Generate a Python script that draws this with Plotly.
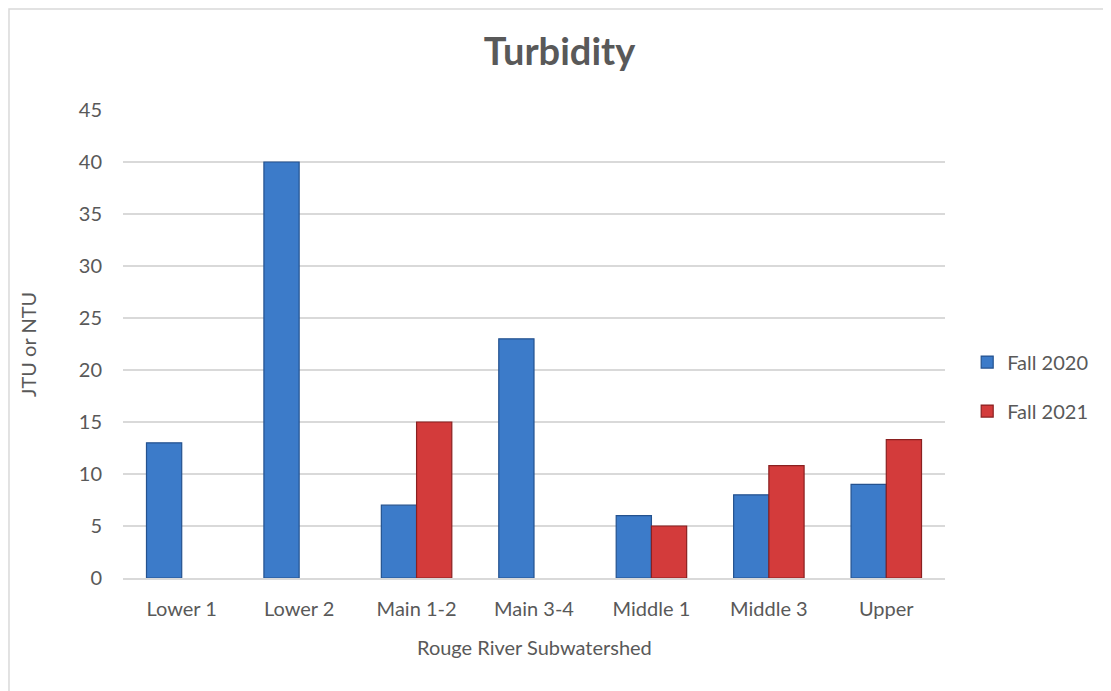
import plotly.graph_objects as go

categories = ["Lower 1", "Lower 2", "Main 1-2", "Main 3-4", "Middle 1", "Middle 3", "Upper"]
fall_2020 = [13, 40, 7, 23, 6, 8, 9]
fall_2021 = [None, None, 15, None, 5, 10.8, 13.3]

FONT = "Lato, 'Open Sans', sans-serif"
GRAY = "#595959"
FS = 20

fig = go.Figure()
fig.add_trace(go.Bar(
    x=categories, y=fall_2020, name="Fall 2020", legendgroup="a",
    marker=dict(color="#3c7bc9", line=dict(color="#24528f", width=1.2)),
))
fig.add_trace(go.Bar(
    x=categories, y=fall_2021, name="Fall 2021", legendgroup="b",
    marker=dict(color="#d33b3b", line=dict(color="#8a2020", width=1.2)),
))

fig.update_layout(
    width=1103, height=683,
    paper_bgcolor="white", plot_bgcolor="white",
    margin=dict(l=115, r=166, t=102, b=113),
    barmode="group", bargap=0.4, bargroupgap=0.0,
    font=dict(family=FONT, color=GRAY, size=FS),
    title=dict(text="<b>Turbidity</b>", x=0.5, xanchor="center", xref="container",
               y=1 - 44 / 683, yanchor="middle", yref="container",
               font=dict(size=38, color=GRAY, family=FONT)),
    legend=dict(x=1.027, y=0.409, xanchor="left", yanchor="middle",
                font=dict(size=FS, color=GRAY), tracegroupgap=20, itemwidth=30,
                traceorder="grouped"),
    xaxis=dict(showline=True, linecolor="#d9d9d9", linewidth=1.5, ticks="",
               tickfont=dict(size=FS, color=GRAY), ticklabelstandoff=12),
    yaxis=dict(range=[0, 45], dtick=5, showgrid=True, gridcolor="#d9d9d9", gridwidth=1.5,
               zeroline=False, showline=False, ticks="",
               tickfont=dict(size=FS, color=GRAY), ticklabelstandoff=20),
    annotations=[
        dict(text="Rouge River Subwatershed", xref="paper", yref="paper",
             x=0.5, y=-0.1474, xanchor="center", yanchor="middle", showarrow=False,
             font=dict(size=FS, color=GRAY)),
        dict(text="JTU or NTU", xref="paper", yref="paper", textangle=-90,
             x=-0.1156, y=0.5, xanchor="center", yanchor="middle", showarrow=False,
             font=dict(size=FS, color=GRAY)),
    ],
    shapes=[dict(type="rect", xref="paper", yref="paper",
                 x0=-0.1387, x1=1.25, y0=-0.3, y1=1.2158,
                 line=dict(color="#d9d9d9", width=1.5), fillcolor="rgba(0,0,0,0)", layer="below")],
)

fig.write_html("out.html")
